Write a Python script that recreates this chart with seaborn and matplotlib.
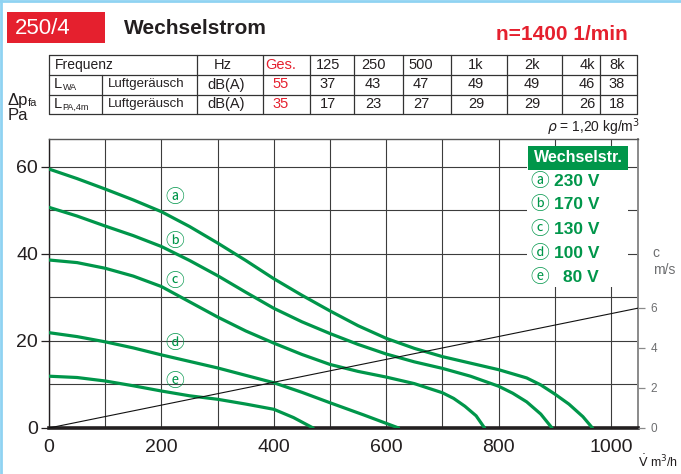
import matplotlib
matplotlib.use("Agg")
import matplotlib.pyplot as plt
import seaborn as sns
import pandas as pd
from matplotlib import font_manager
from matplotlib.patches import Rectangle
from matplotlib.lines import Line2D

# ---------------- data ----------------
table_header = ["Ges.", "125", "250", "500", "1k", "2k", "4k", "8k"]
lwa_values = [55, 37, 43, 47, 49, 49, 46, 38]
lpa_values = [35, 17, 23, 27, 29, 29, 26, 18]

curve_ids = ["a", "b", "c", "d", "e"]
curve_marks = ["\u24d0", "\u24d1", "\u24d2", "\u24d3", "\u24d4"]
voltages = ["230 V", "170 V", "130 V", "100 V", "80 V"]

flow_a = [0, 50, 100, 150, 200, 250, 300, 350, 400, 450, 500, 550, 600, 650, 700, 750, 800, 850, 875, 900, 925, 950, 967]
pres_a = [59.5, 57.3, 54.9, 52.4, 49.7, 46.3, 42.5, 38.5, 34.3, 30.5, 26.9, 23.5, 20.6, 18.3, 16.4, 14.9, 13.4, 11.5, 9.9, 7.8, 5.5, 2.6, 0]
flow_b = [0, 50, 100, 150, 200, 250, 300, 350, 400, 450, 500, 550, 600, 650, 700, 750, 800, 825, 850, 875, 895]
pres_b = [50.7, 48.7, 46.4, 44.2, 41.7, 38.5, 35.0, 31.2, 27.5, 24.4, 21.7, 19.2, 17.0, 15.2, 13.7, 11.9, 9.6, 8.0, 6.0, 3.2, 0]
flow_c = [0, 50, 100, 150, 200, 250, 300, 350, 400, 450, 500, 550, 600, 650, 700, 720, 740, 760, 775]
pres_c = [38.6, 38.0, 36.7, 34.9, 32.5, 29.0, 25.5, 22.3, 19.5, 16.9, 14.6, 13.0, 11.7, 10.2, 8.1, 6.8, 5.0, 2.8, 0]
flow_d = [0, 50, 100, 150, 200, 300, 400, 450, 500, 560, 622]
pres_d = [21.9, 21.0, 19.8, 18.4, 16.8, 13.8, 10.4, 8.2, 5.8, 3.0, 0]
flow_e = [0, 50, 100, 150, 200, 250, 300, 350, 400, 435, 470]
pres_e = [11.9, 11.6, 10.8, 9.7, 8.5, 7.4, 6.6, 5.5, 4.3, 2.4, 0]

velocity_flow = [0, 1050]
velocity_c = [0, 6.0]

x_ticks = [0, 200, 400, 600, 800, 1000]
y_ticks = [0, 20, 40, 60]
c_ticks = [0, 2, 4, 6]

# ---------------- style ----------------
sns.set_style("white")
names = {f.name for f in font_manager.fontManager.ttflist}
NARROW = "Liberation Sans Narrow" if "Liberation Sans Narrow" in names else "Liberation Sans"
plt.rcParams['font.family'] = ['Liberation Sans', 'DejaVu Sans']
MARKFONT = ['Noto Sans CJK JP', 'DejaVu Sans']

GREEN = "#00964a"
RED = "#e5202e"
DARK = "#231f20"
GRAY = "#6d6e70"

W, H = 681, 474
fig = plt.figure(figsize=(W / 100, H / 100), dpi=100)


def fx(x):
    return x / W


def fy(y):
    return 1 - y / H


X0, X1, Y0, Y1 = 49, 638, 428, 139
ax = fig.add_axes([fx(X0), fy(Y0), (X1 - X0) / W, (Y0 - Y1) / H])

rows = []
flows = [flow_a, flow_b, flow_c, flow_d, flow_e]
press = [pres_a, pres_b, pres_c, pres_d, pres_e]
for cid, V, P in zip(curve_ids, flows, press):
    for v, p in zip(V, P):
        rows.append({"curve": cid, "V": v, "P": p})
df = pd.DataFrame(rows)

XMAX = 1048
YMAX = 66.4
ax.set_xlim(0, XMAX)
ax.set_ylim(0, YMAX)

ax.set_xticks(x_ticks)
ax.set_xticks(range(100, 1001, 100), minor=True)
ax.set_yticks(y_ticks)
ax.set_yticks(range(10, 61, 10), minor=True)
ax.grid(True, which="both", color="#3c3c3c", lw=0.8, zorder=0)
ax.set_axisbelow(True)
ax.tick_params(axis="both", which="major", direction="out", length=6, width=0.9,
               labelsize=14, colors=DARK, pad=2)
ax.tick_params(axis="both", which="minor", length=0)
ax.set_xticklabels([str(t) for t in x_ticks])
ax.set_yticklabels([str(t) for t in y_ticks])

ax.spines["left"].set_color(DARK)
ax.spines["left"].set_linewidth(1.0)
ax.spines["bottom"].set_color(DARK)
ax.spines["bottom"].set_linewidth(2.6)
ax.spines["top"].set_color("#555555")
ax.spines["top"].set_linewidth(1.0)
ax.spines["right"].set_color("#8a8a8a")
ax.spines["right"].set_linewidth(1.4)

sns.lineplot(data=df, x="V", y="P", hue="curve", palette={c: GREEN for c in curve_ids},
             lw=2.3, legend=False, ax=ax, sort=False, estimator=None, zorder=3)
ax.set_xlabel("")
ax.set_ylabel("")

# velocity axis
ax2 = ax.twinx()
ax2.set_ylim(0, YMAX * 4.35 / 20)
sns.lineplot(x=velocity_flow, y=velocity_c, ax=ax2, color="#111111", lw=0.8)
ax2.set_yticks(c_ticks)
ax2.set_yticklabels([str(t) for t in c_ticks])
ax2.tick_params(axis="y", direction="out", length=5, width=0.9, colors="#8a8a8a",
                labelsize=8.5, labelcolor=GRAY, pad=4)
for s in ax2.spines.values():
    s.set_visible(False)
ax2.set_ylabel("")
ax2.set_xlim(0, XMAX)

# curve labels
label_pos = [(224, 52.9), (224, 42.8), (223, 33.6), (223, 19.3), (223, 10.6)]
for m, (lx, ly) in zip(curve_marks, label_pos):
    ax.text(lx, ly, m, color=GREEN, fontsize=13.5, family=MARKFONT,
            ha="center", va="center", zorder=4)

# legend box
fig.patches.append(Rectangle((fx(527), fy(287)), 101 / W, (287 - 146) / H,
                             transform=fig.transFigure, facecolor="white",
                             edgecolor="none", zorder=5))
fig.patches.append(Rectangle((fx(528), fy(170)), 100 / W, 24 / H,
                             transform=fig.transFigure, facecolor=GREEN,
                             edgecolor="none", zorder=6))
fig.text(fx(578), fy(158), "Wechselstr.", color="white", fontsize=11.5,
         fontweight="bold", family=NARROW, ha="center", va="center", zorder=7)
item_y = [181, 205, 229, 253.5, 277.5]
for m, v, yy in zip(curve_marks, voltages, item_y):
    fig.text(fx(540), fy(yy), m, color=GREEN, fontsize=13.5, family=MARKFONT,
             ha="center", va="center", zorder=7)
    fig.text(fx(599), fy(yy), v, color=GREEN, fontsize=12.5, fontweight="bold",
             family=NARROW, ha="right", va="center", zorder=7)

# axis texts
fig.text(fx(8), fy(100), "\u0394p", fontsize=12, color=DARK, ha="left", va="center")
fig.text(fx(28), fy(103), "fa", fontsize=8, color=DARK, ha="left", va="center")
fig.text(fx(8), fy(116), "Pa", fontsize=12, color=DARK, ha="left", va="center")
fig.text(fx(652), fy(253), "c", fontsize=10, color=GRAY, ha="left", va="center")
fig.text(fx(653), fy(270), "m/s", fontsize=10, color=GRAY, ha="left", va="center")
fig.text(fx(638), fy(462), r"$\dot{\mathrm{V}}$ m$^3$/h", fontsize=9, color=DARK,
         ha="left", va="center")
fig.text(fx(640), fy(127), r"$\rho$ = 1,20 kg/m$^3$", fontsize=10, color=DARK,
         ha="right", va="center")

# header
fig.patches.append(Rectangle((fx(7), fy(43)), 98 / W, 31 / H, transform=fig.transFigure,
                             facecolor=RED, edgecolor="none"))
fig.text(fx(15), fy(28), "250/4", fontsize=16, color="white", family=NARROW,
         ha="left", va="center")
fig.text(fx(124), fy(28), "Wechselstrom", fontsize=15, color=DARK, fontweight="bold",
         ha="left", va="center")
fig.text(fx(496), fy(34), "n=1400 1/min", fontsize=15, color=RED, fontweight="bold",
         ha="left", va="center")

# frame lines (light blue)
fig.add_artist(Line2D([fx(1), fx(1)], [0, 1], transform=fig.transFigure,
                      color="#8fd3f2", lw=2))
fig.add_artist(Line2D([0, 1], [fy(1), fy(1)], transform=fig.transFigure,
                      color="#8fd3f2", lw=2))

# table
row_lines = [55, 74.5, 94.5, 114]
col_lines = [49, 196.7, 262.7, 310, 353.5, 403, 451, 507, 562, 600, 637]
inner_line = 101.7
lc = "#333333"
for yy in row_lines:
    fig.add_artist(Line2D([fx(49), fx(637)], [fy(yy), fy(yy)], transform=fig.transFigure,
                          color=lc, lw=0.9))
for xx in col_lines:
    fig.add_artist(Line2D([fx(xx), fx(xx)], [fy(55), fy(114)], transform=fig.transFigure,
                          color=lc, lw=0.9))
fig.add_artist(Line2D([fx(inner_line), fx(inner_line)], [fy(74.5), fy(114)],
                      transform=fig.transFigure, color=lc, lw=0.9))

rc = [(a + b) / 2 for a, b in zip(row_lines[:-1], row_lines[1:])]
TFS = 10.5
fig.text(fx(55), fy(rc[0]), "Frequenz", fontsize=10, family=NARROW, color=DARK,
         ha="left", va="center")
fig.text(fx(54), fy(rc[1]), "L", fontsize=TFS, family=NARROW, color=DARK, ha="left", va="center")
fig.text(fx(62.5), fy(rc[1] + 3.5), "WA", fontsize=6.5, family=NARROW, color=DARK, ha="left", va="center")
fig.text(fx(54), fy(rc[2]), "L", fontsize=TFS, family=NARROW, color=DARK, ha="left", va="center")
fig.text(fx(62.5), fy(rc[2] + 3.5), "PA,4m", fontsize=6.5, family=NARROW, color=DARK, ha="left", va="center")
for r in (1, 2):
    fig.text(fx(108), fy(rc[r]), "Luftger\u00e4usch", fontsize=9.5, family=NARROW,
             color=DARK, ha="left", va="center")
    fig.text(fx(226), fy(rc[r]), "dB(A)", fontsize=TFS, family=NARROW,
             color=DARK, ha="center", va="center")
fig.text(fx(223), fy(rc[0]), "Hz", fontsize=TFS, family=NARROW, color=DARK,
         ha="center", va="center")
col_centers = [281, 328, 373, 421, 476, 532, 587, 617]
for i, (cx, hdr, v1, v2) in enumerate(zip(col_centers, table_header, lwa_values, lpa_values)):
    col = RED if i == 0 else DARK
    fig.text(fx(cx), fy(rc[0]), hdr, fontsize=TFS, family=NARROW, color=col, ha="center", va="center")
    fig.text(fx(cx), fy(rc[1]), str(v1), fontsize=TFS, family=NARROW, color=col, ha="center", va="center")
    fig.text(fx(cx), fy(rc[2]), str(v2), fontsize=TFS, family=NARROW, color=col, ha="center", va="center")

fig.savefig("out.png", dpi=100)
